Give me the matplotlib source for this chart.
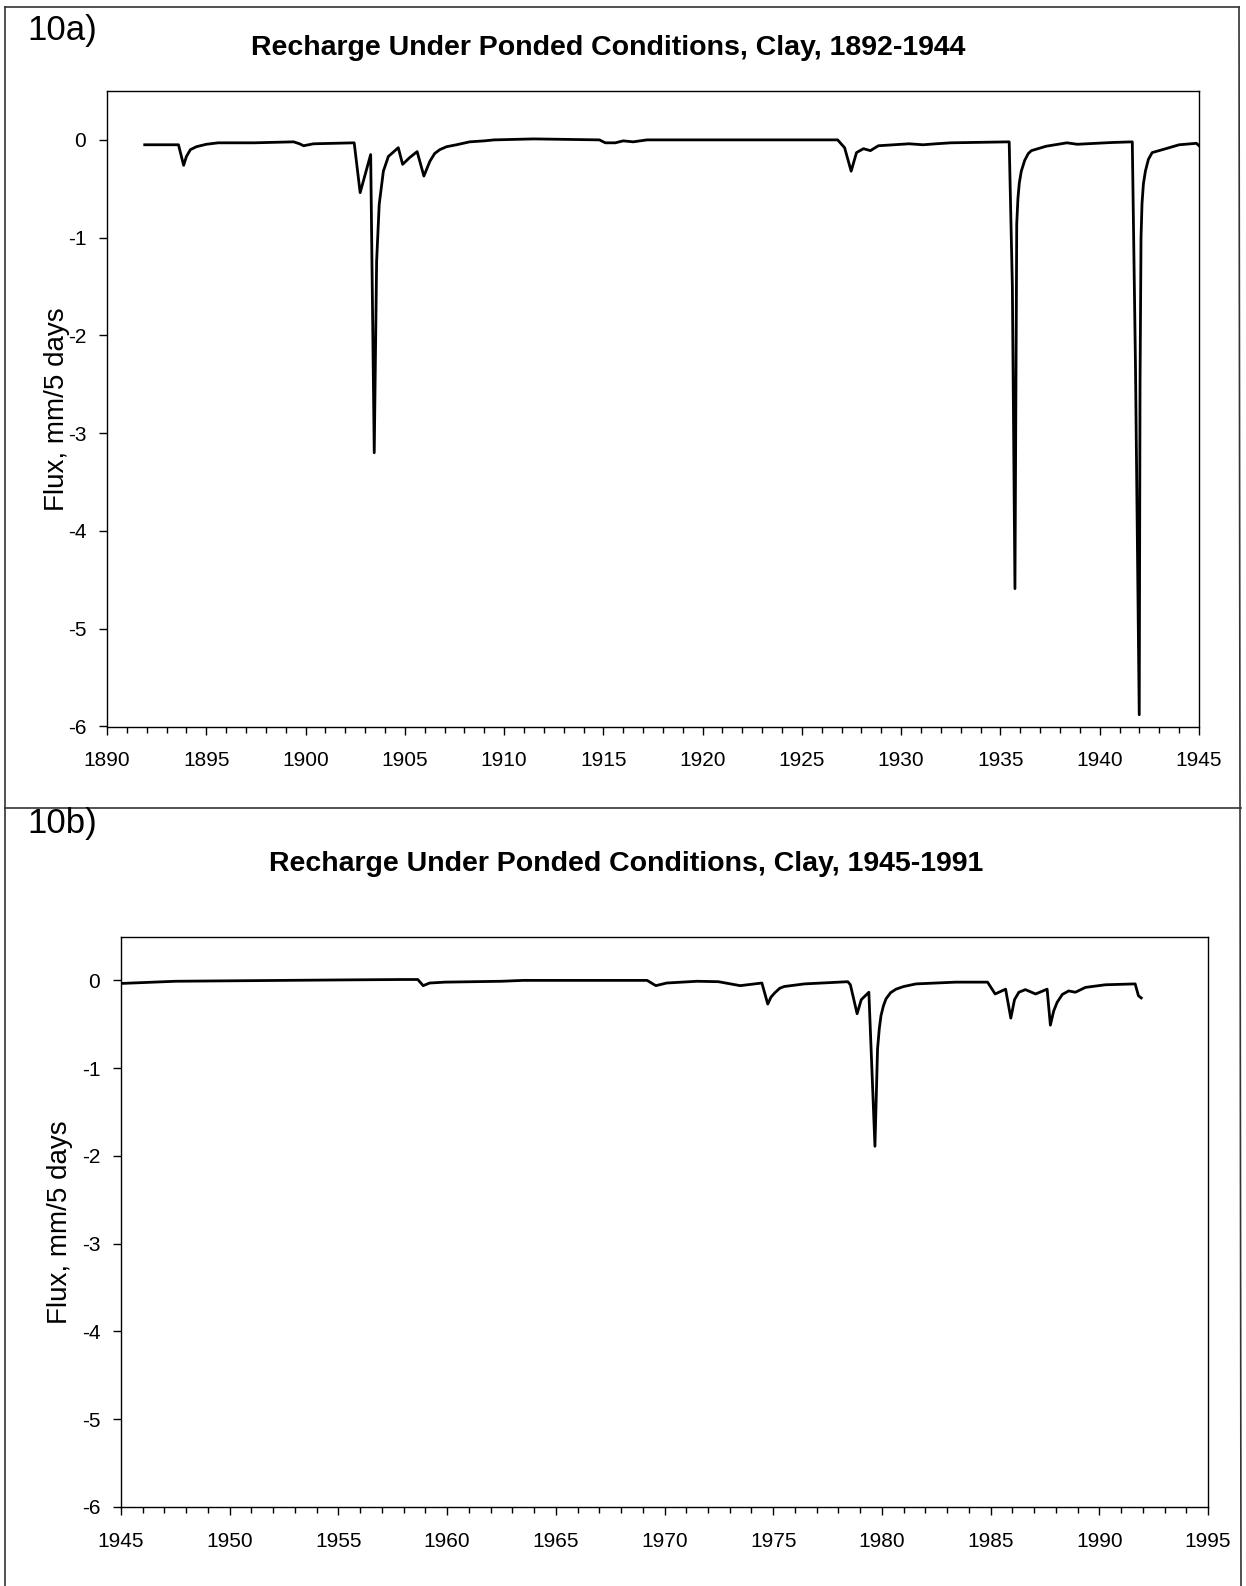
import matplotlib
matplotlib.use("Agg")
import matplotlib.pyplot as plt
from matplotlib.lines import Line2D
from matplotlib.ticker import MultipleLocator

plt.rcParams['font.family'] = ['Liberation Sans', 'DejaVu Sans']
plt.rcParams['axes.unicode_minus'] = False

# panel a, 1892-1944
year_a = [1891.9, 1893.6, 1893.86, 1894.0, 1894.2, 1894.5, 1895.0, 1895.6, 1897.4, 1899.4,
          1899.7, 1899.9, 1900.4, 1902.45, 1902.75, 1903.28, 1903.46, 1903.58, 1903.71, 1903.92,
          1904.17, 1904.67, 1904.89, 1905.25, 1905.62, 1905.96, 1906.26, 1906.5, 1906.76, 1907.1,
          1907.6, 1908.27, 1909.0, 1909.5, 1911.5, 1914.8, 1915.1, 1915.6, 1916.0, 1916.5,
          1917.2, 1926.8, 1927.15, 1927.48, 1927.75, 1928.1, 1928.45, 1928.85, 1930.4, 1931.1,
          1931.75, 1932.5, 1935.44, 1935.6, 1935.73, 1935.82, 1935.88, 1935.95, 1936.05, 1936.22,
          1936.4, 1936.56, 1937.3, 1938.35, 1938.87, 1940.58, 1941.64, 1941.8, 1941.99, 1942.03,
          1942.08, 1942.13, 1942.2, 1942.3, 1942.45, 1942.64, 1943.16, 1944.0, 1944.87, 1945.0]
flux_a = [-0.05, -0.05, -0.26, -0.17, -0.10, -0.07, -0.045, -0.03, -0.03, -0.02,
          -0.04, -0.06, -0.04, -0.03, -0.54, -0.15, -3.20, -1.24, -0.66, -0.32,
          -0.17, -0.08, -0.25, -0.18, -0.12, -0.37, -0.22, -0.14, -0.10, -0.07,
          -0.05, -0.02, -0.01, 0.0, 0.01, 0.0, -0.03, -0.03, -0.01, -0.02,
          0.0, 0.0, -0.08, -0.32, -0.13, -0.09, -0.11, -0.06, -0.04, -0.05,
          -0.04, -0.03, -0.02, -1.5, -4.59, -0.86, -0.6, -0.44, -0.32, -0.21,
          -0.14, -0.11, -0.065, -0.03, -0.045, -0.027, -0.02, -2.3, -5.88, -2.5,
          -1.0, -0.65, -0.45, -0.32, -0.2, -0.13, -0.10, -0.05, -0.035, -0.06]

# panel b, 1945-1991
year_b = [1945.0, 1946.5, 1947.5, 1950.0, 1955.0, 1958.0, 1958.65, 1958.9, 1959.2, 1959.9,
          1962.5, 1963.5, 1969.2, 1969.6, 1970.1, 1971.5, 1972.48, 1973.48, 1974.48, 1974.75,
          1974.9, 1975.08, 1975.3, 1975.5, 1976.44, 1978.43, 1978.55, 1978.86, 1979.05, 1979.4,
          1979.68, 1979.8, 1979.88, 1979.96, 1980.07, 1980.19, 1980.4, 1980.65, 1981.0, 1981.57,
          1983.4, 1984.86, 1985.21, 1985.69, 1985.93, 1986.1, 1986.3, 1986.6, 1987.07, 1987.6,
          1987.75, 1987.9, 1988.06, 1988.3, 1988.59, 1988.9, 1989.36, 1990.28, 1991.65, 1991.8,
          1991.93]
flux_b = [-0.035, -0.02, -0.01, -0.005, 0.005, 0.01, 0.01, -0.06, -0.03, -0.02,
          -0.01, 0.0, 0.0, -0.06, -0.03, -0.01, -0.015, -0.06, -0.03, -0.27,
          -0.19, -0.14, -0.09, -0.07, -0.04, -0.015, -0.05, -0.38, -0.22, -0.135,
          -1.89, -0.78, -0.55, -0.40, -0.29, -0.21, -0.14, -0.10, -0.07, -0.04,
          -0.02, -0.02, -0.155, -0.10, -0.43, -0.22, -0.135, -0.105, -0.155, -0.10,
          -0.51, -0.35, -0.25, -0.16, -0.12, -0.135, -0.08, -0.05, -0.04, -0.175,
          -0.2]

W, H = 1246, 1586
fig = plt.figure(figsize=(W / 100, H / 100), dpi=100)


def box(l, t, r, b):
    return [l / W, 1 - b / H, (r - l) / W, (b - t) / H]


def setup(ax, xlo, xhi, label_x):
    ax.set_xlim(xlo, xhi)
    ax.set_ylim(-6, 0.5)
    ax.xaxis.set_major_locator(MultipleLocator(5))
    ax.xaxis.set_minor_locator(MultipleLocator(1))
    ax.set_yticks(range(-6, 1))
    ax.tick_params(axis='both', which='major', direction='out', length=6, width=1,
                   labelsize=15)
    ax.tick_params(axis='x', which='major', pad=12)
    ax.tick_params(axis='y', which='major', pad=9)
    ax.tick_params(axis='x', which='minor', direction='out', length=4, width=1)
    ax.tick_params(axis='y', which='minor', length=0)
    for s in ax.spines.values():
        s.set_linewidth(1)
    ax.set_ylabel("Flux, mm/5 days", fontsize=20)
    ax.yaxis.set_label_coords(label_x, 0.5)


ax1 = fig.add_axes(box(107, 91, 1199, 726.5))
ax1.plot(year_a, flux_a, color='black', lw=2)
setup(ax1, 1890, 1945, (70 - 107) / (1199 - 107))

ax2 = fig.add_axes(box(121, 936.5, 1208, 1507))
ax2.plot(year_b, flux_b, color='black', lw=2)
setup(ax2, 1945, 1995, (73 - 121) / (1208 - 121))

fig.text(27 / W, 1 - 40 / H, "10a)", fontsize=25, va='baseline', ha='left')
fig.text(608 / W, 1 - 55 / H, "Recharge Under Ponded Conditions, Clay, 1892-1944",
         fontsize=20.5, fontweight='bold', ha='center', va='baseline')
fig.text(27 / W, 1 - 833 / H, "10b)", fontsize=25, va='baseline', ha='left')
fig.text(626 / W, 1 - 871 / H, "Recharge Under Ponded Conditions, Clay, 1945-1991",
         fontsize=20.5, fontweight='bold', ha='center', va='baseline')

# panel frames
frame = [((5, 7), (1239, 7)), ((5, 7), (5, 1586)), ((1239, 7), (1241, 1586)),
         ((5, 808), (1241, 808))]
for (x0, y0), (x1, y1) in frame:
    fig.add_artist(Line2D([x0 / W, x1 / W], [1 - y0 / H, 1 - y1 / H],
                          transform=fig.transFigure, color='#333333', lw=1.2))

fig.savefig("out.png", dpi=100)
